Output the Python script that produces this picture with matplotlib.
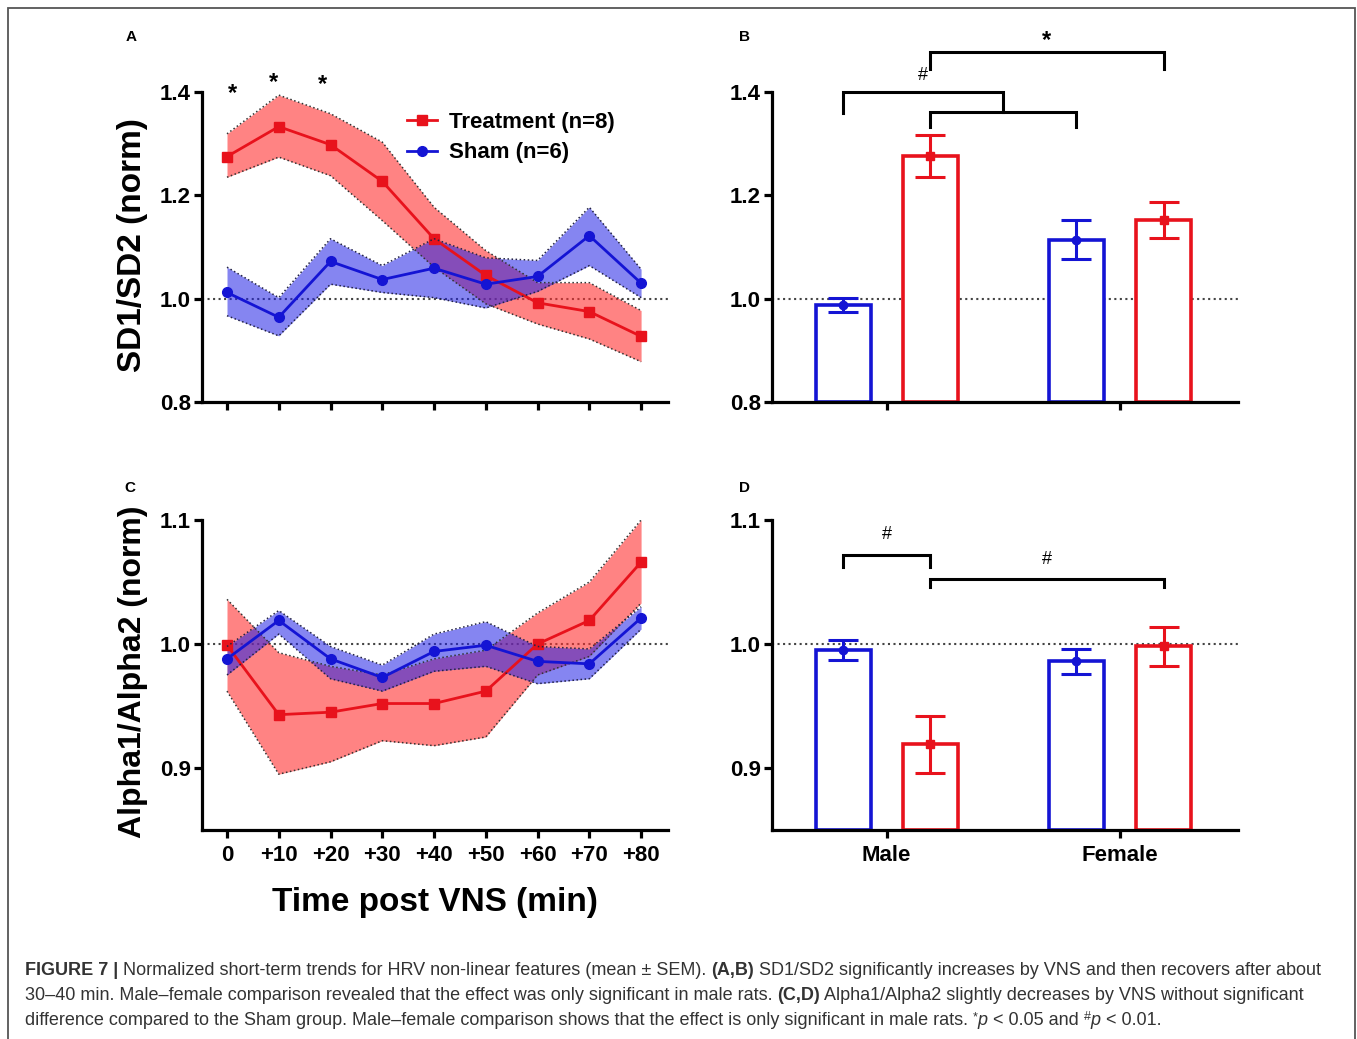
import matplotlib
matplotlib.use("Agg")
import matplotlib.pyplot as plt
from matplotlib.patches import Rectangle

plt.rcParams["font.family"] = ["Liberation Sans", "DejaVu Sans"]

# time course, minutes after stimulation
time = [0, 10, 20, 30, 40, 50, 60, 70, 80]
time_labels = ["0", "+10", "+20", "+30", "+40", "+50", "+60", "+70", "+80"]

# SD1/SD2 (normalised), mean and mean +/- SEM
sd_treat = [1.275, 1.333, 1.298, 1.227, 1.116, 1.045, 0.992, 0.975, 0.927]
sd_treat_hi = [1.319, 1.394, 1.358, 1.303, 1.177, 1.093, 1.031, 1.031, 0.977]
sd_treat_lo = [1.235, 1.274, 1.238, 1.151, 1.061, 0.990, 0.951, 0.922, 0.878]
sd_sham = [1.012, 0.964, 1.072, 1.037, 1.059, 1.028, 1.043, 1.122, 1.030]
sd_sham_hi = [1.061, 1.002, 1.116, 1.064, 1.116, 1.079, 1.074, 1.177, 1.057]
sd_sham_lo = [0.967, 0.928, 1.028, 1.012, 1.002, 0.982, 1.014, 1.064, 1.002]

# Alpha1/Alpha2 (normalised)
al_treat = [0.999, 0.943, 0.945, 0.952, 0.952, 0.962, 1.000, 1.019, 1.066]
al_treat_hi = [1.036, 0.993, 0.982, 0.975, 0.988, 0.995, 1.025, 1.050, 1.100]
al_treat_lo = [0.962, 0.895, 0.905, 0.922, 0.918, 0.925, 0.975, 0.990, 1.033]
al_sham = [0.988, 1.019, 0.988, 0.973, 0.994, 0.999, 0.986, 0.984, 1.021]
al_sham_hi = [0.998, 1.027, 0.998, 0.983, 1.008, 1.018, 0.998, 0.996, 1.030]
al_sham_lo = [0.975, 1.008, 0.972, 0.962, 0.978, 0.982, 0.968, 0.972, 1.012]

# male / female comparison bars
groups = ["Male", "Female"]
sd_bar_sham = [0.988, 1.114]
sd_bar_sham_err = [0.014, 0.038]
sd_bar_treat = [1.276, 1.153]
sd_bar_treat_err = [0.041, 0.035]
al_bar_sham = [0.995, 0.986]
al_bar_sham_err = [0.008, 0.010]
al_bar_treat = [0.919, 0.998]
al_bar_treat_err = [0.023, 0.016]

RED = "#e8121c"
BLUE = "#1414d4"
RED_FILL = "#ff3030"
BLUE_FILL = "#2222e6"
SPINE_W = 2.3
TICK_FS = 16

W, H = 1357, 1039
fig = plt.figure(figsize=(W / 100, H / 100), dpi=100)


def px_axes(left, top, right, bottom):
    return fig.add_axes([left / W, 1 - bottom / H, (right - left) / W, (bottom - top) / H])


def style_axes(ax):
    for s in ["top", "right"]:
        ax.spines[s].set_visible(False)
    for s in ["left", "bottom"]:
        ax.spines[s].set_linewidth(SPINE_W)
    ax.tick_params(width=SPINE_W, length=6, labelsize=TICK_FS, pad=2)
    for lab in ax.get_xticklabels() + ax.get_yticklabels():
        lab.set_fontweight("bold")


def trend(ax, treat, t_lo, t_hi, sham, s_lo, s_hi):
    ax.fill_between(time, t_lo, t_hi, color=RED_FILL, alpha=0.6, lw=0)
    ax.plot(time, t_hi, ls=":", color="#333333", lw=1.1)
    ax.plot(time, t_lo, ls=":", color="#333333", lw=1.1)
    ax.plot(time, treat, color=RED, lw=2, marker="s", ms=7.5, label="Treatment (n=8)")
    ax.fill_between(time, s_lo, s_hi, color=BLUE_FILL, alpha=0.55, lw=0)
    ax.plot(time, s_hi, ls=":", color="#222244", lw=1.1)
    ax.plot(time, s_lo, ls=":", color="#222244", lw=1.1)
    ax.plot(time, sham, color=BLUE, lw=2, marker="o", ms=7, label="Sham (n=6)")
    ax.axhline(1.0, color="#444444", ls=":", lw=1.5, zorder=0)
    ax.set_xlim(-4.83, 85.2)
    ax.set_xticks(time)


def bars(ax, bottom, sham, sham_err, treat, treat_err):
    xs = range(len(groups))
    off, bw = 0.187, 0.236
    for i in xs:
        for x, v, e, c, m in [(i - off, sham[i], sham_err[i], BLUE, "o"),
                              (i + off, treat[i], treat_err[i], RED, "s")]:
            ax.bar(x, v - bottom, bottom=bottom, width=bw, facecolor="white",
                   edgecolor=c, lw=2.6, zorder=2)
            ax.errorbar(x, v, yerr=e, color=c, elinewidth=2.2, capsize=10.5,
                        capthick=2.2, marker=m, ms=6, zorder=3)
    ax.axhline(1.0, color="#444444", ls=":", lw=1.5, zorder=1)
    ax.set_xlim(-0.4916, 1.506)
    ax.set_xticks(list(xs))


def bracket(ax, x1, x2, y, y1, y2):
    ax.plot([x1, x1, x2, x2], [y1, y, y, y2], color="black", lw=2.2,
            clip_on=False, solid_joinstyle="miter")


# A: SD1/SD2 time course
axA = px_axes(202, 92, 668, 402)
trend(axA, sd_treat, sd_treat_lo, sd_treat_hi, sd_sham, sd_sham_lo, sd_sham_hi)
axA.set_ylim(0.8, 1.4)
axA.set_yticks([0.8, 1.0, 1.2, 1.4])
axA.set_xticklabels([])
style_axes(axA)
for x, y in [(1, 1.398), (9, 1.418), (18.5, 1.414)]:
    axA.text(x, y, "*", ha="center", va="center", fontsize=17, fontweight="bold",
             clip_on=False)
axA.legend(loc="upper left", bbox_to_anchor=(0.44, 0.935), frameon=False,
           prop={"weight": "bold", "size": 16}, handlelength=1.35,
           handletextpad=0.55, labelspacing=0.42, borderpad=0, borderaxespad=0)

# B: SD1/SD2 by sex
axB = px_axes(772, 92, 1238, 402)
bars(axB, 0.8, sd_bar_sham, sd_bar_sham_err, sd_bar_treat, sd_bar_treat_err)
axB.set_ylim(0.8, 1.4)
axB.set_yticks([0.8, 1.0, 1.2, 1.4])
axB.set_xticklabels([])
style_axes(axB)
bracket(axB, 0.187, 1.187, 1.478, 1.445, 1.445)
axB.text(0.687, 1.500, "*", ha="center", va="center", fontsize=17, fontweight="bold")
bracket(axB, -0.187, 0.5, 1.400, 1.359, 1.361)
bracket(axB, 0.187, 0.813, 1.361, 1.332, 1.332)
axB.text(0.155, 1.431, "#", ha="center", va="center", fontsize=13)

# C: Alpha1/Alpha2 time course
axC = px_axes(202, 520, 668, 830)
trend(axC, al_treat, al_treat_lo, al_treat_hi, al_sham, al_sham_lo, al_sham_hi)
axC.set_ylim(0.85, 1.1)
axC.set_yticks([0.9, 1.0, 1.1])
axC.set_xticklabels(time_labels)
style_axes(axC)
axC.tick_params(axis="x", pad=5)

# D: Alpha1/Alpha2 by sex
axD = px_axes(772, 520, 1238, 830)
bars(axD, 0.85, al_bar_sham, al_bar_sham_err, al_bar_treat, al_bar_treat_err)
axD.set_ylim(0.85, 1.1)
axD.set_yticks([0.9, 1.0, 1.1])
axD.set_xticklabels(groups)
style_axes(axD)
axD.tick_params(axis="x", pad=5)
bracket(axD, -0.187, 0.187, 1.072, 1.0625, 1.0625)
axD.text(0.0, 1.088, "#", ha="center", va="center", fontsize=13)
bracket(axD, 0.187, 1.187, 1.0526, 1.046, 1.046)
axD.text(0.687, 1.068, "#", ha="center", va="center", fontsize=13)

# panel letters and axis titles
for lab, x, y in [("A", 131, 37), ("B", 745, 37), ("C", 130, 488), ("D", 745, 488)]:
    fig.text(x / W, 1 - y / H, lab, ha="center", va="center", fontsize=11,
             fontweight="bold")
fig.text(133 / W, 1 - 245 / H, "SD1/SD2 (norm)", rotation=90, ha="center",
         va="center", fontsize=24, fontweight="bold")
fig.text(133 / W, 1 - 672 / H, "Alpha1/Alpha2 (norm)", rotation=90, ha="center",
         va="center", fontsize=23, fontweight="bold")
fig.text(435 / W, 1 - 903 / H, "Time post VNS (min)", ha="center", va="center",
         fontsize=24, fontweight="bold")

# frame around the figure
fig.patches.append(Rectangle((8 / W, -0.01), 1347 / W, 1 - 8 / H + 0.01,
                             transform=fig.transFigure, fill=False,
                             ec="#555555", lw=1.3))

# caption, written piece by piece so bold/italic runs line up
renderer = fig.canvas.get_renderer()
CAP = 13.0
CAP_COLOR = "#333333"


def run_line(y_px, pieces, x_px=25):
    x = x_px
    for txt, kw in pieces:
        opts = dict(fontsize=CAP, color=CAP_COLOR, va="baseline", ha="left")
        opts.update(kw)
        dy = opts.pop("dy", 0)
        t = fig.text(x / W, 1 - (y_px - dy) / H, txt, **opts)
        x += t.get_window_extent(renderer).width


B_ = {"fontweight": "bold"}
N_ = {}
I_ = {"style": "italic"}
SUP = {"fontsize": 9, "dy": 5}
run_line(975, [("FIGURE 7 |", B_),
               (" Normalized short-term trends for HRV non-linear features (mean \u00b1 SEM). ", N_),
               ("(A,B)", B_),
               (" SD1/SD2 significantly increases by VNS and then recovers after about", N_)])
run_line(1000, [("30\u201340 min. Male\u2013female comparison revealed that the effect was only significant in male rats. ", N_),
                ("(C,D)", B_),
                (" Alpha1/Alpha2 slightly decreases by VNS without significant", N_)])
run_line(1025, [("difference compared to the Sham group. Male\u2013female comparison shows that the effect is only significant in male rats. ", N_),
                ("*", SUP), ("p", I_), (" < 0.05 and ", N_), ("#", SUP), ("p", I_),
                (" < 0.01.", N_)])

fig.savefig("out.png", dpi=100)
